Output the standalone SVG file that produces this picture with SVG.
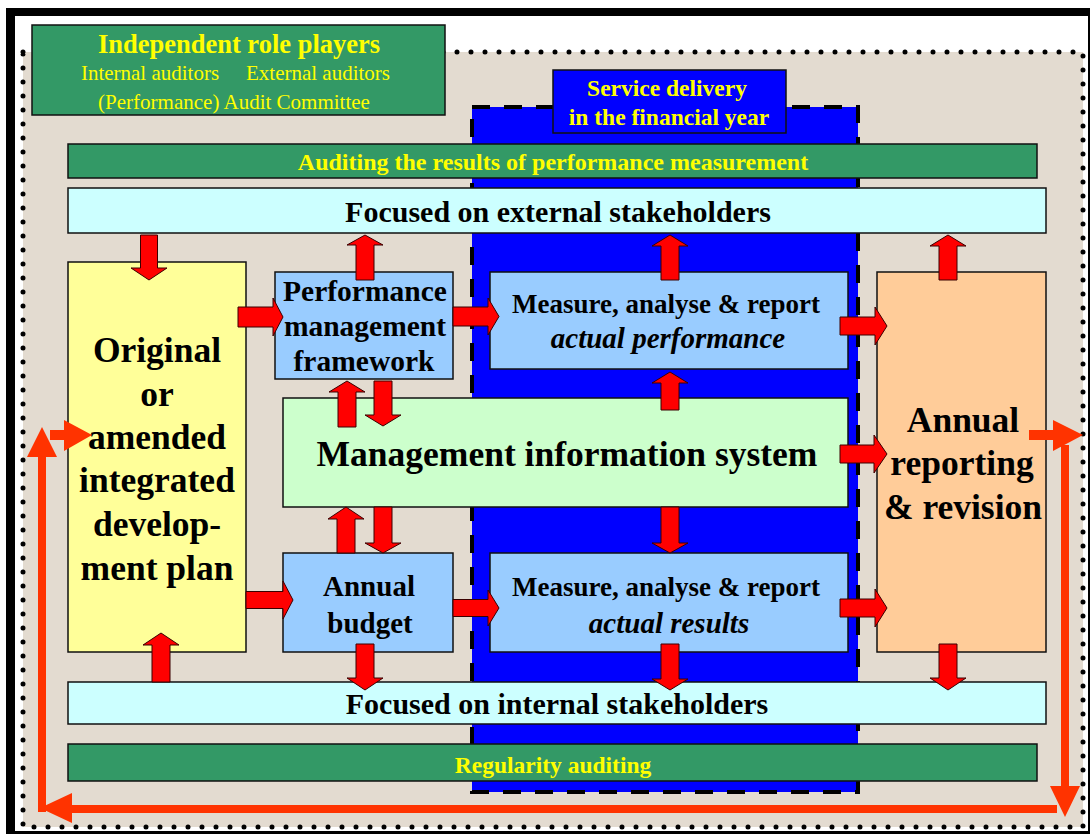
<svg xmlns="http://www.w3.org/2000/svg" width="1090" height="834" viewBox="0 0 1090 834">
<style>
.box{stroke:#111;stroke-width:1.5}
.t{font-family:"Liberation Serif","Times New Roman",serif;font-weight:bold;text-anchor:middle;fill:#000}
.y{fill:#ffff00}
.n{font-weight:normal}
.i{font-style:italic}
.ba{fill:#ff0000;stroke:#3a0000;stroke-width:1}
.la{fill:#ff3300}
</style>
<rect x="6" y="8" width="1084" height="826" fill="#000"/>
<rect x="15" y="16" width="1073" height="815" fill="#fff"/>
<rect x="23" y="52" width="1060" height="775" fill="#e3dbd0"/>
<rect x="23" y="52" width="1060" height="775" fill="none" stroke="#000" stroke-width="5" stroke-dasharray="0 14" stroke-linecap="round"/>

<g id="service-delivery-area">
<rect x="472" y="107" width="386" height="685" fill="#0000ff" stroke="#000" stroke-width="4" stroke-dasharray="18 14"/>
</g>

<g id="auditing-results">
<rect class="box" x="68" y="144" width="969" height="34" fill="#339966"/>
<text class="t y" x="553" y="170" font-size="24">Auditing the results of performance measurement</text>
</g>
<g id="external-stakeholders">
<rect class="box" x="68" y="188" width="978" height="45" fill="#ccffff"/>
<text class="t" x="558" y="222" font-size="30">Focused on external stakeholders</text>
</g>
<g id="internal-stakeholders">
<rect class="box" x="68" y="682" width="978" height="42" fill="#ccffff"/>
<text class="t" x="557" y="714" font-size="30">Focused on internal stakeholders</text>
</g>
<g id="regularity-auditing">
<rect class="box" x="68" y="744" width="969" height="37" fill="#339966"/>
<text class="t y" x="553" y="773" font-size="23.5">Regularity auditing</text>
</g>

<g id="idp">
<rect class="box" x="68" y="262" width="178" height="390" fill="#ffff99"/>
<text class="t" font-size="35.5" x="157"><tspan x="157" y="362">Original</tspan><tspan x="157" y="406">or</tspan><tspan x="157" y="449">amended</tspan><tspan x="157" y="492">integrated</tspan><tspan x="157" y="536">develop-</tspan><tspan x="157" y="580">ment plan</tspan></text>
</g>
<g id="pmf">
<rect class="box" x="275" y="272" width="178" height="107" fill="#99ccff"/>
<text class="t" font-size="29.5"><tspan x="365" y="301">Performance</tspan><tspan x="365" y="336">management</tspan><tspan x="364" y="371">framework</tspan></text>
</g>
<g id="mis">
<rect class="box" x="283" y="398" width="565" height="109" fill="#ccffcc"/>
<text class="t" x="567" y="466" font-size="35.5">Management information system</text>
</g>
<g id="budget">
<rect class="box" x="283" y="553" width="170" height="99" fill="#99ccff"/>
<text class="t" font-size="29"><tspan x="369" y="596">Annual</tspan><tspan x="370" y="633">budget</tspan></text>
</g>
<g id="measure-performance">
<rect class="box" x="490" y="272" width="358" height="97" fill="#99ccff"/>
<text class="t" x="666" y="313" font-size="27">Measure, analyse &amp; report</text>
<text class="t i" x="668" y="348" font-size="29">actual performance</text>
</g>
<g id="measure-results">
<rect class="box" x="490" y="553" width="358" height="99" fill="#99ccff"/>
<text class="t" x="666" y="596" font-size="27">Measure, analyse &amp; report</text>
<text class="t i" x="669" y="633" font-size="29">actual results</text>
</g>
<g id="annual-reporting">
<rect class="box" x="877" y="272" width="169" height="380" fill="#ffcc99"/>
<text class="t" font-size="35.5"><tspan x="963" y="432">Annual</tspan><tspan x="962" y="475">reporting</tspan><tspan x="963" y="519">&amp; revision</tspan></text>
</g>
<g id="role-players">
<rect class="box" x="32" y="25" width="413" height="90" fill="#339966"/>
<text class="t y" x="239" y="53" font-size="26.5">Independent role players</text>
<text class="t y n" x="150" y="80" font-size="21">Internal auditors</text>
<text class="t y n" x="318" y="80" font-size="21">External auditors</text>
<text class="t y n" x="234" y="109" font-size="21">(Performance) Audit Committee</text>
</g>
<g id="service-delivery">
<rect class="box" x="553" y="70" width="233" height="63" fill="#0000ff"/>
<text class="t y" x="667" y="96" font-size="23.5">Service delivery</text>
<text class="t y" x="669" y="125" font-size="23.5">in the financial year</text>
</g>

<g id="connectors">
<path class="ba" d="M140.5,235 H157.5 V268 H167 L149,280 L131,268 H140.5 Z"/>
<path class="ba" d="M356,280 V245 H347 L365,235 L383,245 H374 V280 Z"/>
<path class="ba" d="M238,307 H273 V298 L283,317 L273,336 V327 H238 Z"/>
<path class="ba" d="M453,307 H488 V298 L499,316.5 L488,335 V326 H453 Z"/>
<path class="ba" d="M338,427 V392 H329 L347,381 L365,392 H356 V427 Z"/>
<path class="ba" d="M374,381 H392 V415 H401 L383,426 L365,415 H374 Z"/>
<path class="ba" d="M337,553 V519 H328 L346,507 L364,519 H355 V553 Z"/>
<path class="ba" d="M374,507 H392 V543 H401 L383,553 L365,543 H374 Z"/>
<path class="ba" d="M246,591.5 H283 V581 L293,600 L283,619 V608.5 H246 Z"/>
<path class="ba" d="M356,644 H374 V678 H383 L365,690 L347,678 H356 Z"/>
<path class="ba" d="M453,599.5 H488 V590 L499,608 L488,626 V616.5 H453 Z"/>
<path class="ba" d="M661,280 V246 H652 L670,235 L688,246 H679 V280 Z"/>
<path class="ba" d="M661,410 V383 H652 L670,372 L688,383 H679 V410 Z"/>
<path class="ba" d="M840,317 H875 V307 L887,326 L875,345 V335 H840 Z"/>
<path class="ba" d="M840,445 H874 V435 L887,454 L874,473 V463 H840 Z"/>
<path class="ba" d="M661,507 H679 V543 H688 L670,553 L652,543 H661 Z"/>
<path class="ba" d="M840,599 H875 V589 L887,608 L875,627 V617 H840 Z"/>
<path class="ba" d="M661,644 H679 V679 H688 L670,690 L652,679 H661 Z"/>
<path class="ba" d="M939,280 V246 H930 L948,235 L966,246 H957 V280 Z"/>
<path class="ba" d="M939,644 H957 V678 H966 L948,690 L930,678 H939 Z"/>
<path class="ba" d="M152,682 V645 H143 L161,633 L179,645 H170 V682 Z"/>
<path class="la" d="M1029,430 H1053 V420 L1083,435 L1053,451 V440 H1029 Z"/>
<path class="la" d="M1061,445 V786 H1050 L1065,817 L1080,786 H1069 V445 Z"/>
<path class="la" d="M1057,805 V813 H72 V823 L40,808 L72,793 V805 Z"/>
<path class="la" d="M38,812 V457 H27 L42,427 L57,457 H46 V812 Z"/>
<path class="la" d="M50,430 H64 V420 L92,435 L64,451 V440 H50 Z"/>
</g>
</svg>
